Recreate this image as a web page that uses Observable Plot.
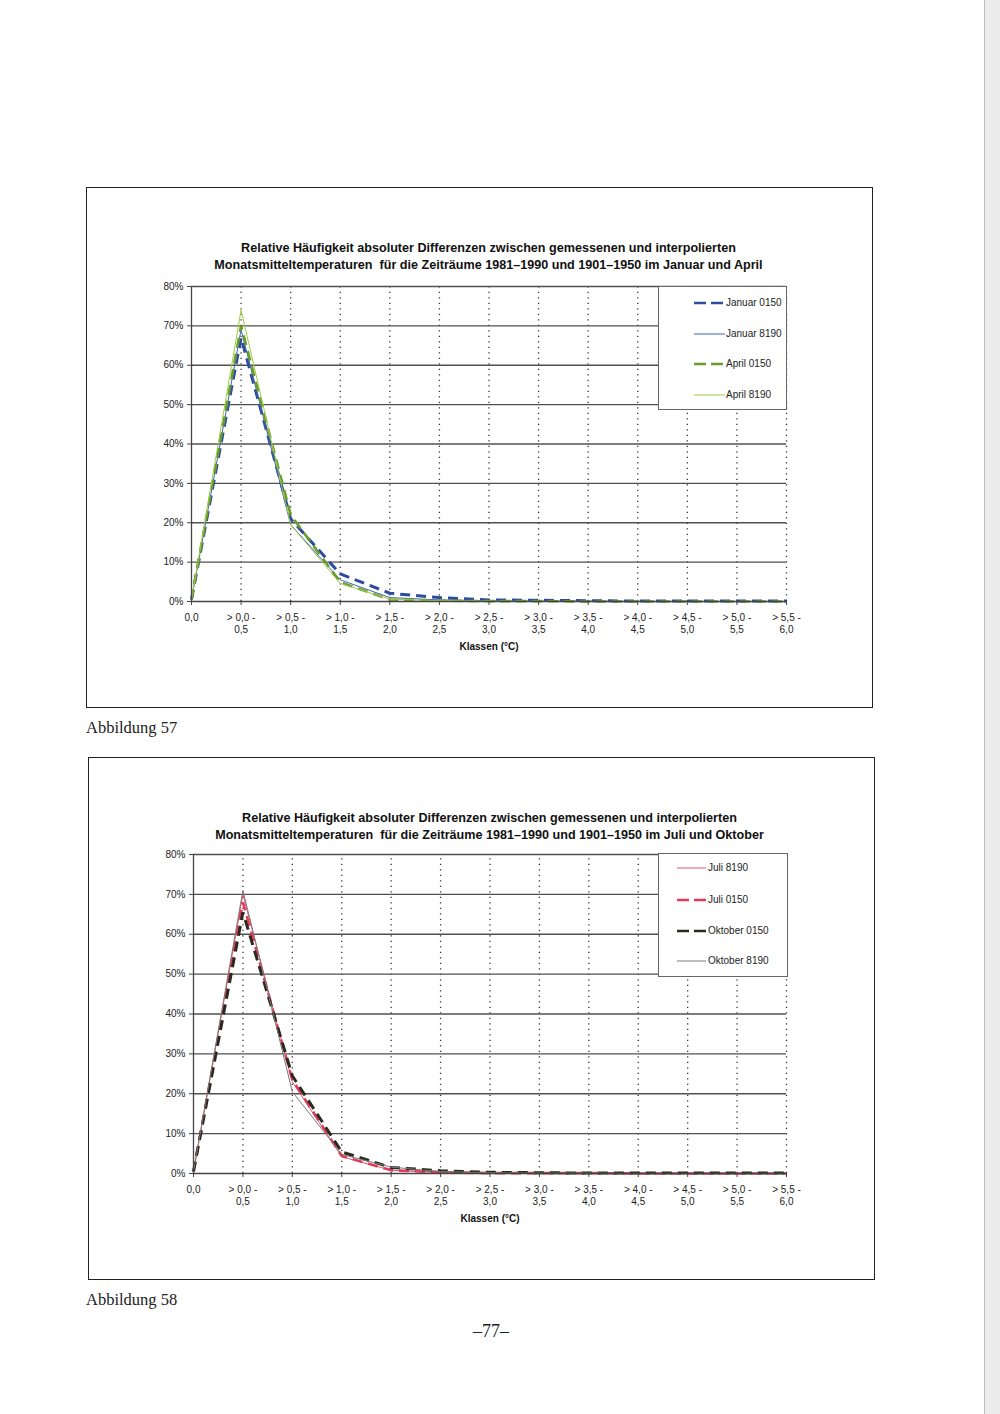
<!DOCTYPE html>
<html>
<head>
<meta charset="utf-8">
<script src="https://cdn.jsdelivr.net/npm/d3@7"></script>
<script src="https://cdn.jsdelivr.net/npm/@observablehq/plot@0.6"></script>
<style>
  html, body { margin: 0; padding: 0; background: #fff; }
  body { width: 1000px; height: 1414px; position: relative; overflow: hidden; font-family: "Liberation Sans", Arial, sans-serif; }
  .edge { position: absolute; left: 984px; top: 0; width: 16px; height: 1414px; background: #ececec; border-left: 1px solid #bdbdbd; }
  .box { position: absolute; border: 1.5px solid #222; box-sizing: border-box; }
  .title { position: absolute; text-align: center; font-weight: bold; font-size: 12.6px; color: #111; white-space: nowrap; }
  .plot { position: absolute; }
  .legend { position: absolute; background: #fff; border: 1px solid #666; box-sizing: border-box; font-size: 10px; color: #222; }
  .legend .item { position: absolute; height: 12px; white-space: nowrap; }
  .legend svg { position: absolute; top: 0; }
  .legend span { position: absolute; top: -1px; line-height: 14px; }
  .cap { position: absolute; font-family: "Liberation Serif", "Times New Roman", serif; font-size: 16.5px; color: #222; white-space: nowrap; }
</style>
</head>
<body>
<div class="edge"></div>
<div class="box" style="left:86px;top:187px;width:787px;height:521px;"></div>
<div class="box" style="left:88px;top:757px;width:787px;height:523px;"></div>
<div class="title" id="t1" style="left:191px;top:240px;width:595px;line-height:17px;">Relative Häufigkeit absoluter Differenzen zwischen gemessenen und interpolierten<br>Monatsmitteltemperaturen&nbsp; für die Zeiträume 1981–1990 und 1901–1950 im Januar und April</div>
<div class="title" id="t2" style="left:193px;top:810px;width:593px;line-height:16.5px;">Relative Häufigkeit absoluter Differenzen zwischen gemessenen und interpolierten<br>Monatsmitteltemperaturen&nbsp; für die Zeiträume 1981–1990 und 1901–1950 im Juli und Oktober</div>
<div class="plot" id="p1" style="left:121px;top:276px;"></div>
<div class="plot" id="p2" style="left:123px;top:844px;"></div>
<div class="legend" id="l1" style="left:658px;top:286px;width:129px;height:124px;"></div>
<div class="legend" id="l2" style="left:658px;top:853px;width:130px;height:124px;"></div>
<div class="cap" style="left:86px;top:718px;">Abbildung 57</div>
<div class="cap" style="left:86px;top:1290px;">Abbildung 58</div>
<div class="cap" style="left:473px;top:1321px;font-size:18px;">–77–</div>
<script>
// Class labels (x axis)
const classes = ["0,0", "> 0,0 -\n0,5", "> 0,5 -\n1,0", "> 1,0 -\n1,5", "> 1,5 -\n2,0", "> 2,0 -\n2,5", "> 2,5 -\n3,0", "> 3,0 -\n3,5", "> 3,5 -\n4,0", "> 4,0 -\n4,5", "> 4,5 -\n5,0", "> 5,0 -\n5,5", "> 5,5 -\n6,0"];
const yTicks = [0, 10, 20, 30, 40, 50, 60, 70, 80];

// Chart 1 (Januar / April), percent
const januar0150 = [0.5, 67, 21, 7, 2.1, 1.0, 0.4, 0.3, 0.2, 0.1, 0.1, 0.1, 0.1];
const januar8190 = [0.5, 69, 19.5, 5.5, 1.0, 0.4, 0.2, 0.1, 0.1, 0, 0, 0, 0];
const april0150  = [0.5, 70, 22, 4.9, 0.5, 0.2, 0.1, 0.1, 0, 0, 0, 0, 0];
const april8190  = [0.5, 74, 19.5, 4.6, 0.6, 0.2, 0.1, 0, 0, 0, 0, 0, 0];

// Chart 2 (Juli / Oktober), percent
const juli8190    = [0.5, 70, 23, 4.2, 0.8, 0.2, 0.1, 0.1, 0, 0, 0, 0, 0];
const juli0150    = [0.5, 68, 23.5, 4.4, 0.8, 0.3, 0.1, 0.1, 0.1, 0, 0, 0, 0];
const oktober0150 = [0.5, 65.5, 24.5, 5.4, 1.5, 0.7, 0.3, 0.2, 0.1, 0.1, 0.1, 0.1, 0.1];
const oktober8190 = [0.5, 71, 20.5, 4.8, 1.6, 0.5, 0.2, 0.1, 0.1, 0, 0, 0, 0];

const series1 = [
  {name: "Januar 0150", values: januar0150, stroke: "#2d4c9e", width: 3, dash: "10,6"},
  {name: "Januar 8190", values: januar8190, stroke: "#3f62b4", width: 1, dash: null},
  {name: "April 0150",  values: april0150,  stroke: "#6a9c2c", width: 2.6, dash: "10,6"},
  {name: "April 8190",  values: april8190,  stroke: "#9fcc45", width: 1, dash: null}
];
const series2 = [
  {name: "Juli 8190",    values: juli8190,    stroke: "#e8506a", width: 1, dash: null},
  {name: "Juli 0150",    values: juli0150,    stroke: "#e33a58", width: 2.6, dash: "10,6"},
  {name: "Oktober 0150", values: oktober0150, stroke: "#2b2a20", width: 3, dash: "10,6"},
  {name: "Oktober 8190", values: oktober8190, stroke: "#7a7a7a", width: 1, dash: null}
];

function makeChart(series, opts) {
  const lineMarks = series.map(s =>
    Plot.lineY(s.values.map((v, i) => ({x: classes[i], y: v})), {
      x: "x", y: "y", stroke: s.stroke, strokeWidth: s.width,
      strokeDasharray: s.dash || undefined, strokeLinejoin: "miter", strokeLinecap: "butt"
    })
  );
  return Plot.plot({
    width: 690, height: 390,
    marginLeft: 70, marginTop: 10, marginRight: opts.marginRight, marginBottom: opts.marginBottom,
    style: {fontFamily: "Liberation Sans, Arial, sans-serif", fontSize: "10px", color: "#222", background: "transparent", overflow: "visible"},
    x: {type: "point", domain: classes, padding: 0, round: false, label: null},
    y: {domain: [0, 80], label: null},
    marks: [
      Plot.ruleX(classes.slice(1), {y1: 0, y2: 80, stroke: "#333", strokeWidth: 1.3, strokeDasharray: "1.3,4.2"}),
      Plot.ruleY(yTicks.slice(1), {stroke: "#505050", strokeWidth: 1.3}),
      ...lineMarks,
      Plot.ruleY([0], {stroke: "#444", strokeWidth: 1.3}),
      Plot.ruleX([classes[0]], {y1: 0, y2: 80, stroke: "#444", strokeWidth: 1.3}),
      Plot.axisY({ticks: yTicks, tickFormat: d => d + "%", tickSize: 4, tickPadding: 4, fontSize: 10, stroke: "#444", label: null}),
      Plot.axisX({tickSize: 4, tickPadding: 7, fontSize: 10, lineHeight: 1.2, stroke: "#444", label: null}),
      Plot.text(["Klassen (°C)"], {frameAnchor: "bottom", dy: 45, fontWeight: "bold", fontSize: 10, lineAnchor: "middle", fill: "#111"})
    ]
  });
}

document.getElementById("p1").append(makeChart(series1, {marginRight: 25, marginBottom: 65}));
document.getElementById("p2").append(makeChart(series2, {marginRight: 27, marginBottom: 61}));

function makeLegend(el, series, ys, x1, x2, tx) {
  series.forEach((s, i) => {
    const item = document.createElement("div");
    item.className = "item";
    item.style.left = "0px";
    item.style.top = (ys[i] - 6) + "px";
    item.style.width = "128px";
    const ns = "http://www.w3.org/2000/svg";
    const svg = document.createElementNS(ns, "svg");
    svg.setAttribute("width", 128); svg.setAttribute("height", 12);
    const ln = document.createElementNS(ns, "line");
    ln.setAttribute("x1", x1); ln.setAttribute("x2", x2);
    ln.setAttribute("y1", 6); ln.setAttribute("y2", 6);
    ln.setAttribute("stroke", s.stroke);
    ln.setAttribute("stroke-width", s.dash ? Math.min(s.width, 2.6) : 1);
    if (s.dash) ln.setAttribute("stroke-dasharray", "12,5");
    svg.appendChild(ln);
    item.appendChild(svg);
    const sp = document.createElement("span");
    sp.style.left = tx + "px";
    sp.textContent = s.name;
    item.appendChild(sp);
    el.appendChild(item);
  });
}
makeLegend(document.getElementById("l1"), series1, [16, 47, 77, 108], 35, 66, 67);
makeLegend(document.getElementById("l2"), series2, [14, 46, 77, 107], 18, 47, 49);
</script>
</body>
</html>
